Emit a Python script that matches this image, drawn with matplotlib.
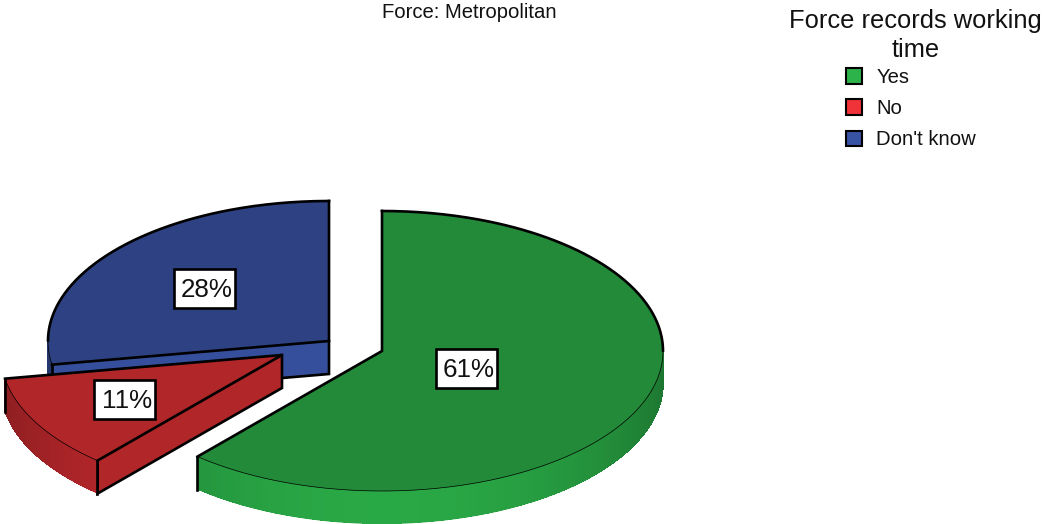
import matplotlib
matplotlib.use('Agg')
import matplotlib.pyplot as plt
import numpy as np
from matplotlib.collections import PolyCollection
from matplotlib.patches import Patch, Polygon, Rectangle

categories = ['Yes', 'No', "Don't know"]
shares = [61.4, 10.9, 27.7]
legend_colors = ['#2cb34a', '#ef3338', '#3953a4']

plt.rcParams['font.family'] = ['Liberation Sans', 'DejaVu Sans']

# the picture is laid out in pixels, y pointing down
RX, RY, DEPTH = 281, 140, 33
centers = [(382, 351), (282, 355), (329, 341)]
label_pos = [(466, 368.5), (124.5, 399), (204.5, 288.5)]
base_z = [3, 6, 1]  # blue behind, red in front
top_shade = [0.77, 0.74, 0.8]
side_gain = [1.0, 0.88, 1.0]


def shade(color, f):
    return tuple(min(1, c * f) for c in matplotlib.colors.to_rgb(color))


def rim(cx, cy, t):
    # t in degrees, clockwise from twelve o'clock
    r = np.radians(t)
    return np.column_stack([cx + RX * np.sin(r), cy - RY * np.cos(r)])


def side_shade(t):
    return 0.66 + 0.28 * np.sin(np.radians(t - 90)) ** 1.6


fig = plt.figure(figsize=(10.42, 5.24), dpi=100)
ax = fig.add_axes([0, 0, 1, 1])
ax.set_xlim(0, 1042)
ax.set_ylim(524, 0)
ax.axis('off')

edges = np.concatenate([[0], np.cumsum(shares)]) / sum(shares) * 360

for i in range(3):
    cx, cy = centers[i]
    t0, t1 = edges[i], edges[i + 1]
    color = legend_colors[i]
    z = base_z[i]
    ts = np.linspace(t0, t1, int((t1 - t0) * 2) + 2)
    pts = rim(cx, cy, ts)
    tip = np.array([cx, cy], dtype=float)
    down = np.array([0, DEPTH])

    # flat cut faces that can be seen (green's faces away)
    if i != 0:
        p = rim(cx, cy, [t0])[0]
        fc = shade(color, 0.74 if i == 1 else 0.95)
        ax.add_patch(Polygon([tip, p, p + down, tip + down], fc=fc, ec='none', zorder=z))
        ax.plot([p[0], p[0], tip[0], tip[0]], [p[1], p[1] + DEPTH, tip[1] + DEPTH, tip[1]],
                color='k', lw=1.9, zorder=z + 0.1, solid_joinstyle='miter')

    # curved side, only the part facing the viewer
    front = ts[(ts >= 90) & (ts <= 270)]
    if len(front) > 1:
        fp = rim(cx, cy, front)
        mid = shade(color, side_gain[i] * side_shade(front[len(front) // 2]))
        ax.add_patch(Polygon(np.vstack([fp, fp[::-1] + down]), fc=mid, ec='none', zorder=z + 0.2))
        quads = []
        cols = []
        for k in range(len(front) - 1):
            a, b = fp[k], fp[k + 1]
            quads.append([a, b, b + [0, DEPTH - 1], a + [0, DEPTH - 1]])
            cols.append(shade(color, side_gain[i] * side_shade((front[k] + front[k + 1]) / 2)))
        ax.add_collection(PolyCollection(quads, facecolors=cols, edgecolors=cols, linewidths=0.5,
                                         antialiaseds=False, zorder=z + 0.3))

    # top face
    ax.add_patch(Polygon(np.vstack([tip, pts]), fc=shade(color, top_shade[i]), ec='none', zorder=z + 0.4))

    # outlines: thin over the front rim, thick on the cuts and the back
    ax.plot(pts[:, 0], pts[:, 1], color='k', lw=0.5, zorder=z + 0.5)
    for part in (ts[ts <= 90], ts[ts >= 270]):
        if len(part) > 1:
            bp = rim(cx, cy, part)
            ax.plot(bp[:, 0], bp[:, 1], color='k', lw=1.9, zorder=z + 0.5)
    a, b = pts[0], pts[-1]
    ax.plot([a[0], cx, b[0]], [a[1], cy, b[1]], color='k', lw=1.9, zorder=z + 0.5, solid_joinstyle='miter')
    for p, t in ((a, t0), (b, t1)):
        if 90 < t < 270:
            ax.plot([p[0], p[0]], [p[1], p[1] + DEPTH], color='k', lw=1.9, zorder=z + 0.5)

for share, (lx, ly) in zip(shares, label_pos):
    ax.add_patch(Rectangle((lx - 30.5, ly - 19.5), 61, 39, fc='white', ec='k', lw=1.9, zorder=10))
    ax.text(lx + 2.5, ly + 1.5, f'{round(share)}%', ha='center', va='center', fontsize=18.7, color='#111111', zorder=11)

ax.text(469.5, 12, 'Force: Metropolitan', ha='center', va='center', fontsize=14.6, color='#111111')
ax.text(915.5, 35.5, 'Force records working\ntime', ha='center', va='center', multialignment='center',
        fontsize=18.4, linespacing=1.22, color='#111111')

handles = [Patch(fc=c, ec='k', lw=1.5) for c in legend_colors]
leg = ax.legend(handles, categories, fontsize=14.6, frameon=False, loc='upper left',
                bbox_to_anchor=(846, 68), bbox_transform=ax.transData,
                borderpad=0, borderaxespad=0, handlelength=0.8, handleheight=0.8, handletextpad=0.7,
                labelspacing=0.6, labelcolor='#111111')
leg.set_zorder(12)

plt.savefig('out.png', dpi=100)
